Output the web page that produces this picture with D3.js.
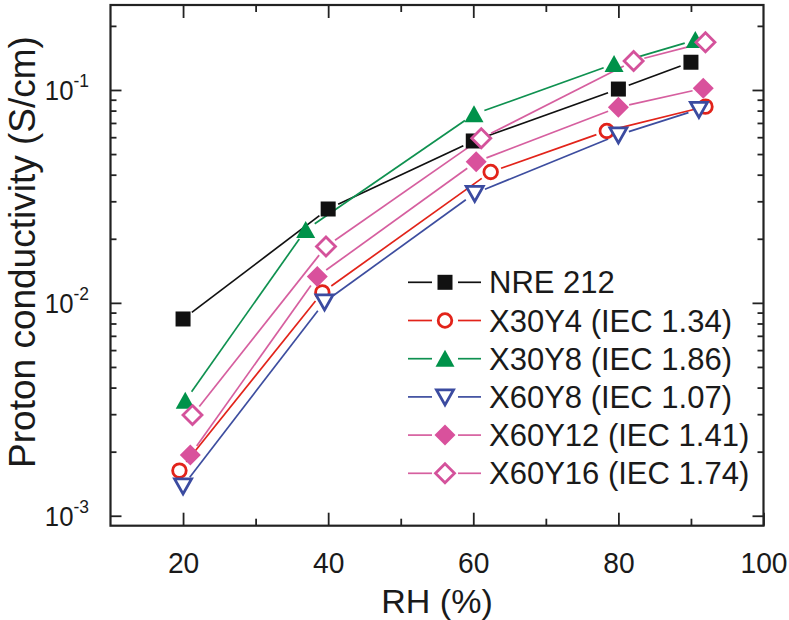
<!DOCTYPE html>
<html><head><meta charset="utf-8">
<script src="https://cdn.jsdelivr.net/npm/d3@7"></script>
<style>
body{margin:0;background:#fff}
svg text{font-family:"Liberation Sans",Arial,Helvetica,sans-serif;fill:#1a1a1a}
</style>
</head><body>
<svg id="chart" width="789" height="620"></svg>
<script>
// ---------- data ----------
const seriesNames = ["NRE 212","X30Y4 (IEC 1.34)","X30Y8 (IEC 1.86)","X60Y8 (IEC 1.07)","X60Y12 (IEC 1.41)","X60Y16 (IEC 1.74)"];
const rhNRE    = [20, 40, 60, 80, 90];
const sNRE     = [0.0084, 0.0276, 0.0576, 0.101, 0.135];
const rhX30Y4  = [19.5, 39.2, 62.4, 78.4, 92.0];
const sX30Y4   = [0.00163, 0.0112, 0.0412, 0.0642, 0.0835];
const rhX30Y8  = [20.3, 36.9, 60.1, 79.4, 90.6];
const sX30Y8   = [0.00347, 0.0220, 0.0769, 0.1324, 0.1718];
const rhX60Y8  = [20.0, 39.5, 60.2, 80.0, 91.1];
const sX60Y8   = [0.00138, 0.0101, 0.0327, 0.0615, 0.0811];
const rhX60Y12 = [21.0, 38.5, 60.4, 80.0, 91.7];
const sX60Y12  = [0.00193, 0.0133, 0.0460, 0.0829, 0.1018];
const rhX60Y16 = [21.3, 39.7, 61.1, 82.1, 92.0];
const sX60Y16  = [0.00297, 0.0184, 0.0593, 0.1368, 0.1675];

const xTickLabels = [20, 40, 60, 80, 100];
const xMinorTicks = [30, 50, 70, 90];
const yTickValues = [0.001, 0.01, 0.1];
const yTickExponents = ["-3", "-2", "-1"];
const xTitle = "RH (%)";
const yTitle = "Proton conductivity (S/cm)";

// ---------- styles ----------
const styles = [
  {color:"#111111", line:"#111111", shape:"square",  fill:true},
  {color:"#e2231a", line:"#e2231a", shape:"circle",  fill:false},
  {color:"#00924a", line:"#0f9150", shape:"triUp",   fill:true},
  {color:"#3b4ba0", line:"#3d4d9f", shape:"triDown", fill:false},
  {color:"#d9519c", line:"#d65f9f", shape:"diamond", fill:true},
  {color:"#d4529b", line:"#d65f9f", shape:"diamond", fill:false}
];
const series = [
  [rhNRE, sNRE],[rhX30Y4, sX30Y4],[rhX30Y8, sX30Y8],
  [rhX60Y8, sX60Y8],[rhX60Y12, sX60Y12],[rhX60Y16, sX60Y16]
].map((p,i)=>({name:seriesNames[i], pts:p[0].map((x,j)=>({x, y:p[1][j]})), st:styles[i]}));

const svg = d3.select("#chart");
const L = 110.5, R = 763.5, T = 5, B = 525.7;
const x = d3.scaleLinear().domain([10,100]).range([L,R]);
const y = d3.scaleLog().domain([0.000898, 0.2507]).range([B,T]);

// minor log ticks
const yMinor = [];
[0.001,0.01,0.1].forEach(d=>{ for(let k=2;k<=9;k++){ const v=d*k; if(v<0.25) yMinor.push(v);} });

const axisColor = "#222";
function styleAxis(g){ g.select(".domain").remove(); g.selectAll("line").attr("stroke",axisColor).attr("stroke-width",1.8); }

// bottom
svg.append("g").attr("transform",`translate(0,${B})`)
  .call(d3.axisBottom(x).tickValues(xTickLabels).tickSize(-13).tickPadding(26).tickFormat(d3.format("d")))
  .call(styleAxis)
  .call(g=>g.selectAll("text").attr("font-size",30).attr("fill","#1a1a1a").attr("transform","scale(0.94,1)"));
svg.append("g").attr("transform",`translate(0,${B})`)
  .call(d3.axisBottom(x).tickValues(xMinorTicks).tickSize(-7).tickFormat(""))
  .call(styleAxis);
// top
svg.append("g").attr("transform",`translate(0,${T})`)
  .call(d3.axisTop(x).tickValues(xTickLabels.slice(0,4)).tickSize(-13).tickFormat(""))
  .call(styleAxis);
svg.append("g").attr("transform",`translate(0,${T})`)
  .call(d3.axisTop(x).tickValues(xMinorTicks).tickSize(-7).tickFormat(""))
  .call(styleAxis);
// left
svg.append("g").attr("transform",`translate(${L},0)`)
  .call(d3.axisLeft(y).tickValues(yTickValues).tickSize(-11).tickFormat(""))
  .call(styleAxis);
svg.append("g").attr("transform",`translate(${L},0)`)
  .call(d3.axisLeft(y).tickValues(yMinor).tickSize(-6).tickFormat(""))
  .call(styleAxis);
// right
svg.append("g").attr("transform",`translate(${R},0)`)
  .call(d3.axisRight(y).tickValues(yTickValues).tickSize(-11).tickFormat(""))
  .call(styleAxis);
svg.append("g").attr("transform",`translate(${R},0)`)
  .call(d3.axisRight(y).tickValues(yMinor).tickSize(-6).tickFormat(""))
  .call(styleAxis);

// y tick labels 10^n
yTickValues.forEach((v,i)=>{
  const g = svg.append("g").attr("transform",`translate(89,${y(v)+10}) scale(0.92,1)`);
  const t = g.append("text").attr("text-anchor","end").attr("font-size",28);
  t.append("tspan").text("10");
  t.append("tspan").attr("font-size",19).attr("dy",-13).text(yTickExponents[i]);
});

// frame
svg.append("rect").attr("x",L).attr("y",T).attr("width",R-L).attr("height",B-T)
  .attr("fill","none").attr("stroke",axisColor).attr("stroke-width",2.2);

// titles
svg.append("text").attr("x",(L+R)/2).attr("y",613).attr("text-anchor","middle").attr("font-size",34).text(xTitle);
svg.append("text").attr("transform",`translate(35,252) rotate(-90)`).attr("text-anchor","middle").attr("font-size",37).text(yTitle);

// markers
function drawMarker(g, cx, cy, st){
  const sw = st.fill ? 0 : 2.8;
  const fill = st.fill ? st.color : "#fff";
  let el;
  if(st.shape==="square"){
    el = g.append("rect").attr("x",cx-7.5).attr("y",cy-7.5).attr("width",15).attr("height",15);
  } else if(st.shape==="circle"){
    el = g.append("circle").attr("cx",cx).attr("cy",cy).attr("r",6.8);
  } else if(st.shape==="triUp"){
    el = g.append("path").attr("d",`M${cx},${cy-9}L${cx+9.5},${cy+8}L${cx-9.5},${cy+8}Z`);
  } else if(st.shape==="triDown"){
    el = g.append("path").attr("d",`M${cx-8.5},${cy-7}L${cx+8.5},${cy-7}L${cx},${cy+8}Z`);
  } else {
    const r = st.fill ? 10.5 : 9.5;
    el = g.append("path").attr("d",`M${cx},${cy-r}L${cx+r},${cy}L${cx},${cy+r}L${cx-r},${cy}Z`);
  }
  el.attr("fill",fill).attr("stroke",st.color).attr("stroke-width",sw).attr("stroke-linejoin","miter");
}

const gap = 11;
series.forEach(s=>{
  const g = svg.append("g");
  for(let i=0;i<s.pts.length-1;i++){
    const x1=x(s.pts[i].x), y1=y(s.pts[i].y), x2=x(s.pts[i+1].x), y2=y(s.pts[i+1].y);
    const dx=x2-x1, dy=y2-y1, len=Math.hypot(dx,dy);
    if(len<=2*gap) continue;
    const ux=dx/len, uy=dy/len;
    g.append("line").attr("x1",x1+ux*gap).attr("y1",y1+uy*gap).attr("x2",x2-ux*gap).attr("y2",y2-uy*gap)
      .attr("stroke",s.st.line).attr("stroke-width",1.7);
  }
});
series.forEach(s=>{
  const g = svg.append("g");
  s.pts.forEach(p=>drawMarker(g, x(p.x), y(p.y), s.st));
});

// legend
const lg = svg.append("g");
series.forEach((s,i)=>{
  const cy = 282.3 + i*38.2;
  lg.append("line").attr("x1",408).attr("x2",432).attr("y1",cy).attr("y2",cy).attr("stroke",s.st.line).attr("stroke-width",1.7);
  lg.append("line").attr("x1",458).attr("x2",481).attr("y1",cy).attr("y2",cy).attr("stroke",s.st.line).attr("stroke-width",1.7);
  drawMarker(lg, 445, cy, s.st);
  lg.append("text").attr("x",489).attr("y",cy+11).attr("font-size",31).text(s.name);
});
</script>
</body></html>
